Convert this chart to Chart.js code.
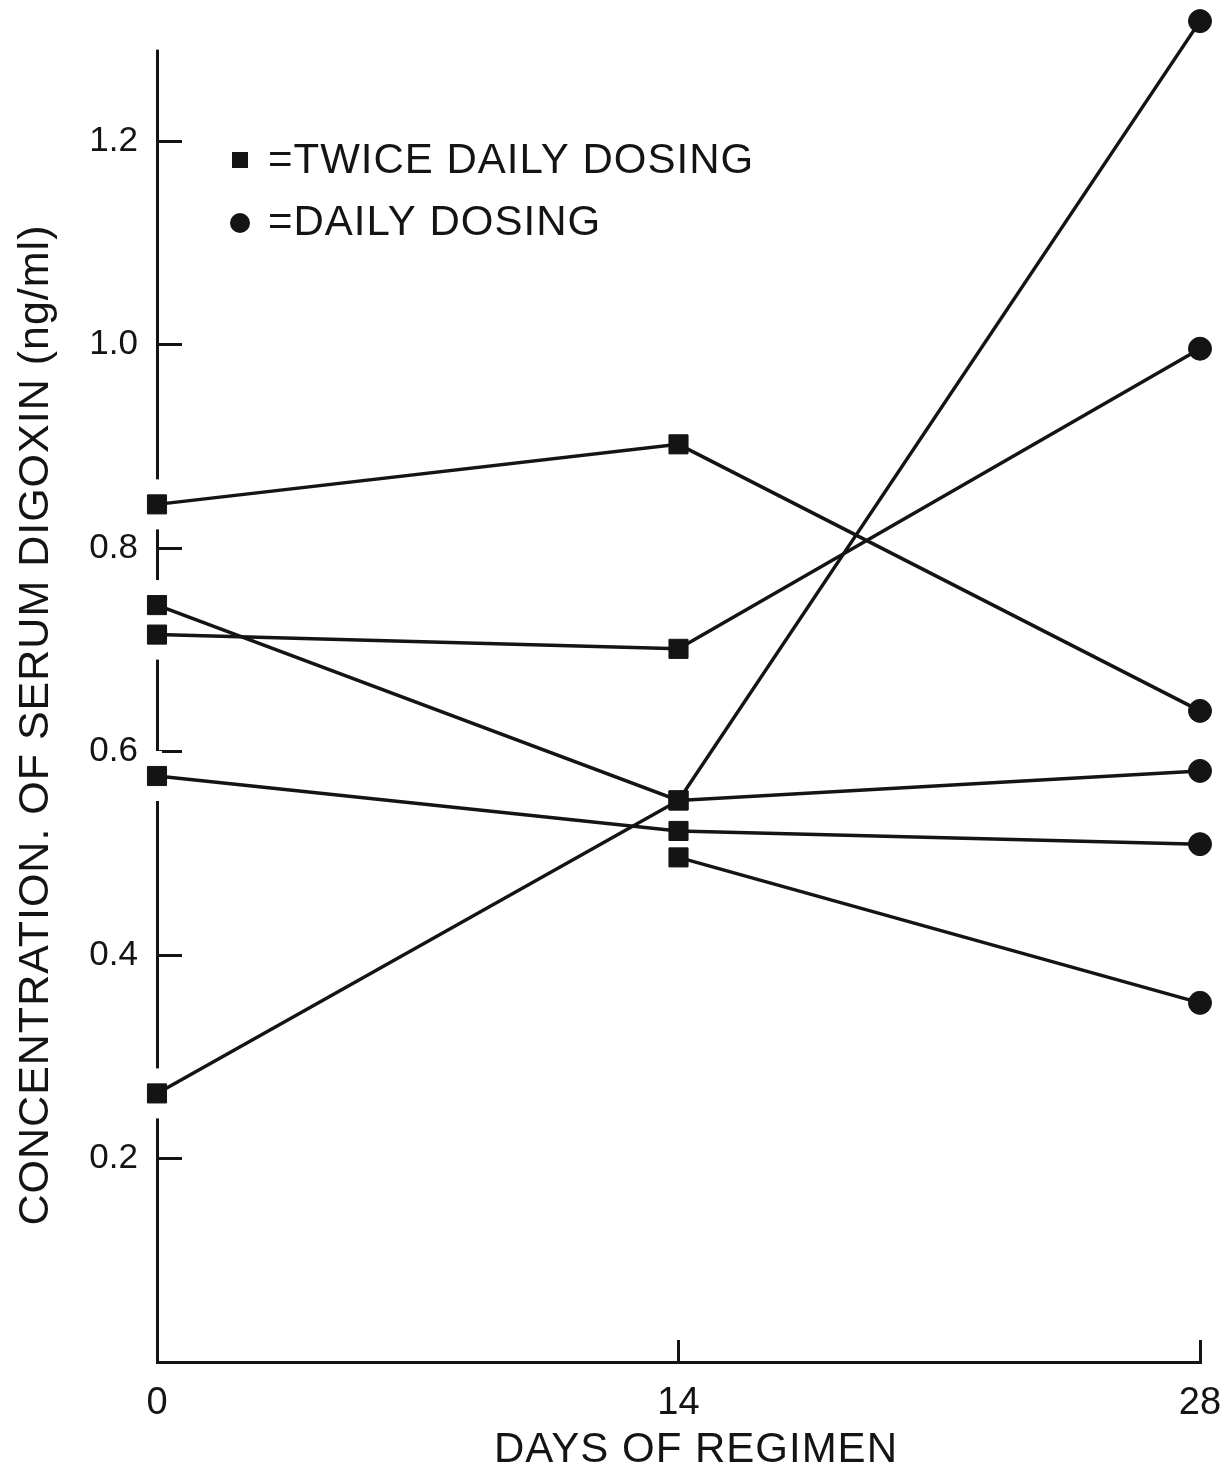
<!DOCTYPE html>
<html lang="en">
<head>
    <meta charset="UTF-8">
    <title>Serum Digoxin by Days of Regimen</title>
    <script src="https://cdn.jsdelivr.net/npm/chart.js"></script>
    <style>
        body {
            margin: 0;
            background-color: #ffffff;
        }
        #chartContainer {
            width: 1230px;
            height: 1477px;
        }
    </style>
</head>
<body>
    <div id="chartContainer">
        <canvas id="myChart" width="1230" height="1477"></canvas>
    </div>

    <script>
        // Days on which serum digoxin was measured
        var days = [0, 14, 28];
        // Dosing regimen at each measurement day (square = twice daily, circle = daily)
        var dosing = ['twice', 'twice', 'daily'];

        // One array per patient, values in ng/ml (null = not measured)
        var patient1 = [0.843, 0.902, 0.640];
        var patient2 = [0.744, 0.552, 0.581];
        var patient3 = [0.715, 0.701, 0.996];
        var patient4 = [0.576, 0.522, 0.509];
        var patient5 = [0.264, 0.552, 1.318];
        var patient6 = [null, 0.496, 0.353];

        var yTicks = [0.2, 0.4, 0.6, 0.8, 1.0, 1.2];
        var xTicks = [0, 14, 28];
        var yAxisTop = 1.29; // the drawn y axis stops here, the scale runs a little higher

        var ink = '#141414';
        var fontFamily = '"Liberation Sans", Arial, sans-serif';

        var patients = [patient1, patient2, patient3, patient4, patient5, patient6];

        var datasets = patients.map(function (values, p) {
            return {
                label: 'Patient ' + (p + 1),
                data: days.map(function (d, i) { return { x: d, y: values[i] }; }),
                borderColor: ink,
                borderWidth: 3.5,
                backgroundColor: ink,
                pointStyle: dosing.map(function (d) { return d === 'twice' ? 'rect' : 'circle'; }),
                pointRadius: dosing.map(function (d) { return d === 'twice' ? 13.5 : 11.5; }),
                pointBackgroundColor: ink,
                pointBorderColor: ink,
                pointBorderWidth: 1,
                tension: 0,
                fill: false,
                clip: false
            };
        });

        // break the y axis line around the day 0 markers and above its top, like the original drawing
        var axisGaps = {
            id: 'axisGaps',
            beforeDatasetsDraw: function (chart) {
                var ctx = chart.ctx;
                var xs = chart.scales.x, ys = chart.scales.y;
                var px = xs.getPixelForValue(days[0]);
                ctx.save();
                ctx.fillStyle = '#ffffff';
                ctx.fillRect(px - 5, 0, 10, ys.getPixelForValue(yAxisTop));
                patients.forEach(function (values) {
                    if (values[0] === null) return;
                    var py = ys.getPixelForValue(values[0]);
                    ctx.fillRect(px - 5, py - 25, 10, 50);
                });
                ctx.restore();
            }
        };

        // legend and axis titles
        var annotations = {
            id: 'annotations',
            afterDraw: function (chart) {
                var ctx = chart.ctx;
                ctx.save();
                ctx.fillStyle = ink;
                ctx.font = '42px ' + fontFamily;
                ctx.letterSpacing = '1px';
                ctx.textBaseline = 'middle';
                ctx.textAlign = 'left';

                ctx.fillRect(232, 152, 16, 16);
                ctx.fillText('=TWICE DAILY DOSING', 268, 161);

                ctx.beginPath();
                ctx.arc(240, 223, 10, 0, Math.PI * 2);
                ctx.fill();
                ctx.fillText('=DAILY DOSING', 268, 223);

                ctx.textAlign = 'center';
                ctx.fillText('DAYS OF REGIMEN', 696, 1450);

                ctx.translate(36, 725);
                ctx.rotate(-Math.PI / 2);
                ctx.font = '43px ' + fontFamily;
                ctx.fillText('CONCENTRATION. OF SERUM DIGOXIN (ng/ml)', 0, 0);
                ctx.restore();
            }
        };

        var ctx = document.getElementById('myChart').getContext('2d');
        var myChart = new Chart(ctx, {
            type: 'line',
            data: { datasets: datasets },
            plugins: [axisGaps, annotations],
            options: {
                responsive: false,
                animation: false,
                layout: { autoPadding: false, padding: { top: 14, right: 30, left: 0, bottom: 0 } },
                plugins: {
                    legend: { display: false },
                    tooltip: { enabled: false }
                },
                scales: {
                    x: {
                        type: 'linear',
                        min: 0,
                        max: 28,
                        afterBuildTicks: function (scale) {
                            scale.ticks = xTicks.map(function (v) { return { value: v }; });
                        },
                        afterFit: function (scale) {
                            scale.height = 115;
                            scale.paddingLeft = 0;
                            scale.paddingRight = 0;
                        },
                        grid: { drawOnChartArea: false, tickLength: -22, color: ink, lineWidth: 3 },
                        border: { color: ink, width: 3 },
                        ticks: {
                            color: ink,
                            padding: 41,
                            font: { family: fontFamily, size: 38 }
                        }
                    },
                    y: {
                        min: 0,
                        max: 1.325,
                        afterBuildTicks: function (scale) {
                            scale.ticks = yTicks.map(function (v) { return { value: v }; });
                        },
                        afterFit: function (scale) {
                            scale.width = 157;
                            scale.paddingTop = 0;
                            scale.paddingBottom = 0;
                        },
                        grid: { drawOnChartArea: false, tickLength: -25, color: ink, lineWidth: 3 },
                        border: { color: ink, width: 3 },
                        ticks: {
                            color: ink,
                            padding: 44,
                            font: { family: fontFamily, size: 35 },
                            callback: function (v) { return Number(v).toFixed(1); }
                        }
                    }
                }
            }
        });
    </script>
</body>
</html>
